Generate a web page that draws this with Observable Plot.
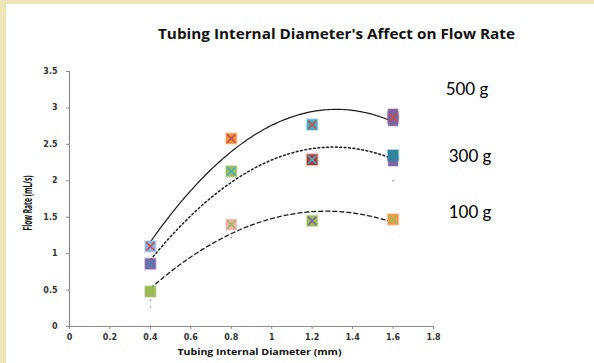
<!DOCTYPE html>
<html><head><meta charset="utf-8">
<script src="https://cdn.jsdelivr.net/npm/d3@7"></script>
<script src="https://cdn.jsdelivr.net/npm/@observablehq/plot@0.6"></script>
<style>
html,body{margin:0;padding:0;background:#ECE6B9;width:594px;height:363px;overflow:hidden;}
#chart{position:absolute;left:6px;top:4px;width:588px;height:359px;background:#fff;}
#chart svg{background:#fff;}
</style></head><body><div id="chart"></div>
<script>
// ---- data ----
const diameters = [0.4, 0.8, 1.2, 1.6];
const seriesNames = ["500 g", "300 g", "100 g"];
const flow500 = [1.10, 2.58, 2.77, 2.87];
const flow300 = [0.86, 2.13, 2.29, 2.35];
const flow100 = [0.48, 1.40, 1.45, 1.47];
// overlapping trial markers: base colour and overlay colour at each point
const baseColor500 = ["#8DB3E2", "#F79646", "#4BACC6", "#8064A2"];
const overColor500 = ["#C0504D", "#C0504D", "#C0504D", "#C0504D"];
const baseColor300 = ["#8064A2", "#9BBB59", "#A83C3A", "#31859C"];
const overColor300 = ["#4F81BD", "#4BACC6", "#4BACC6", "#31859C"];
const baseColor100 = ["#9BBB59", "#F2B3B1", "#9BBB59", "#F79646"];
const overColor100 = ["#9BBB59", "#9BBB59", "#8064A2", "#9BBB59"];
// extra trials visible beside the main markers
const extraX = [1.6, 1.6, 1.6];
const extraY = [2.27, 2.82, 2.92];
const extraColor = ["#8064A2", "#8064A2", "#8064A2"];
// tiny stray marks
const strayX = [0.4, 0.4, 0.8, 1.6];
const strayY = [0.36, 0.27, 1.22, 2.0];
// ticks
const xTicks = [0, 0.2, 0.4, 0.6, 0.8, 1, 1.2, 1.4, 1.6, 1.8];
const yTicks = [0, 0.5, 1, 1.5, 2, 2.5, 3, 3.5];
const labelX = [1.86, 1.875, 1.875];
const labelY = [3.25, 2.33, 1.57];

// ---- build tables ----
const flows = [flow500, flow300, flow100];
const bases = [baseColor500, baseColor300, baseColor100];
const overs = [overColor500, overColor300, overColor100];
const pts = [];
flows.forEach((f, s) => diameters.forEach((d, i) => pts.push({
  series: seriesNames[s], x: d, y: f[i], base: bases[s][i], over: overs[s][i]
})));
const extras = extraX.map((x, i) => ({x, y: extraY[i], color: extraColor[i]}));
const strays = strayX.map((x, i) => ({x, y: strayY[i]}));
const labels = seriesNames.map((t, i) => ({t, x: labelX[i], y: labelY[i]}));

// least-squares quadratic trendline (as in the spreadsheet) from each series
function quadFit(xs, ys) {
  let S = [0,0,0,0,0], T = [0,0,0];
  xs.forEach((x, i) => { for (let k = 0; k < 5; k++) S[k] += x ** k; for (let k = 0; k < 3; k++) T[k] += ys[i] * x ** k; });
  const M = [[S[0],S[1],S[2],T[0]],[S[1],S[2],S[3],T[1]],[S[2],S[3],S[4],T[2]]];
  for (let c = 0; c < 3; c++) { for (let r = c + 1; r < 3; r++) { const f = M[r][c] / M[c][c]; for (let k = c; k < 4; k++) M[r][k] -= f * M[c][k]; } }
  const a = [0,0,0];
  for (let r = 2; r >= 0; r--) { let v = M[r][3]; for (let k = r + 1; k < 3; k++) v -= M[r][k] * a[k]; a[r] = v / M[r][r]; }
  return x => a[0] + a[1] * x + a[2] * x * x;
}
const xs = d3.range(0.4, 1.6001, 0.01);
const trends = flows.map(f => { const g = quadFit(diameters, f); return xs.map(x => ({x, y: g(x)})); });

const plot = Plot.plot({
  width: 588, height: 359,
  marginLeft: 63, marginRight: 161, marginTop: 67, marginBottom: 37,
  x: {domain: [0, 1.8]},
  y: {domain: [0, 3.5]},
  color: {type: "identity"},
  style: {background: "#fff", overflow: "visible"},
  marks: [
    Plot.ruleX([0], {stroke: "#8c8c8c", strokeWidth: 1.2}),
    Plot.ruleY([0], {stroke: "#8c8c8c", strokeWidth: 1.2}),
    Plot.axisX(xTicks, {tickSize: 3, tickPadding: 5, stroke: "#8c8c8c", fill: "#333", tickFormat: d => String(d), label: null,
      fontSize: 8, fontWeight: "bold", fontFamily: "DejaVu Sans"}),
    Plot.axisY(yTicks, {tickSize: 3, tickPadding: 9, stroke: "#8c8c8c", fill: "#333", tickFormat: d => String(d), label: null,
      fontSize: 8, fontWeight: "bold", fontFamily: "DejaVu Sans"}),
    Plot.line(trends[0], {x: "x", y: "y", stroke: "#1a1a1a", strokeWidth: 1.2}),
    Plot.line(trends[1], {x: "x", y: "y", stroke: "#1a1a1a", strokeWidth: 1.5, strokeDasharray: "1.8,2.6"}),
    Plot.line(trends[2], {x: "x", y: "y", stroke: "#1a1a1a", strokeWidth: 1.3, strokeDasharray: "4,3"}),
    Plot.dot(strays, {x: "x", y: "y", r: 0.7, fill: "#666"}),
    Plot.dot(extras, {x: "x", y: "y", symbol: "square", r: 5.4, fill: "color", stroke: "color", strokeOpacity: 0.4, strokeWidth: 1.5}),
    Plot.dot(pts, {x: "x", y: "y", symbol: "square", r: 6, fill: "base", stroke: "base", strokeOpacity: 0.35, strokeWidth: 2}),
    Plot.dot(pts, {x: "x", y: "y", symbol: "times", r: 3.8, stroke: "over", strokeWidth: 1.6}),
    Plot.text(labels, {x: "x", y: "y", text: "t", textAnchor: "start", fontSize: 17, fontFamily: "Lato", fill: "#000"}),
    Plot.text(["Tubing Internal Diameter's Affect on Flow Rate"], {frameAnchor: "top-left", dx: 267, dy: -43,
      fontSize: 14.5, fontWeight: "bold", fontFamily: "Open Sans", fill: "#111", textAnchor: "middle"}),
    Plot.text(["Tubing Internal Diameter (mm)"], {frameAnchor: "bottom-left", dx: 190, dy: 28,
      fontSize: 9, fontWeight: "bold", fontFamily: "Open Sans", fill: "#111", textAnchor: "middle"}),
    Plot.text(["Flow Rate (mL/s)"], {frameAnchor: "left", dx: -41, dy: 4, rotate: -90,
      fontSize: 11.5, fontWeight: "bold", fontFamily: "Open Sans", fill: "#111", textAnchor: "middle"})
  ]
});
document.getElementById("chart").appendChild(plot);
// match text widths of the reference
const fit = {"Flow Rate (mL/s)": [55, "spacingAndGlyphs"],
             "Tubing Internal Diameter's Affect on Flow Rate": [357, "spacingAndGlyphs"],
             "Tubing Internal Diameter (mm)": [164, "spacingAndGlyphs"]};
d3.select(plot).selectAll("text").each(function(){
  const f = fit[this.textContent];
  if (f) d3.select(this).attr("textLength", f[0]).attr("lengthAdjust", f[1]);
});
</script></body></html>
